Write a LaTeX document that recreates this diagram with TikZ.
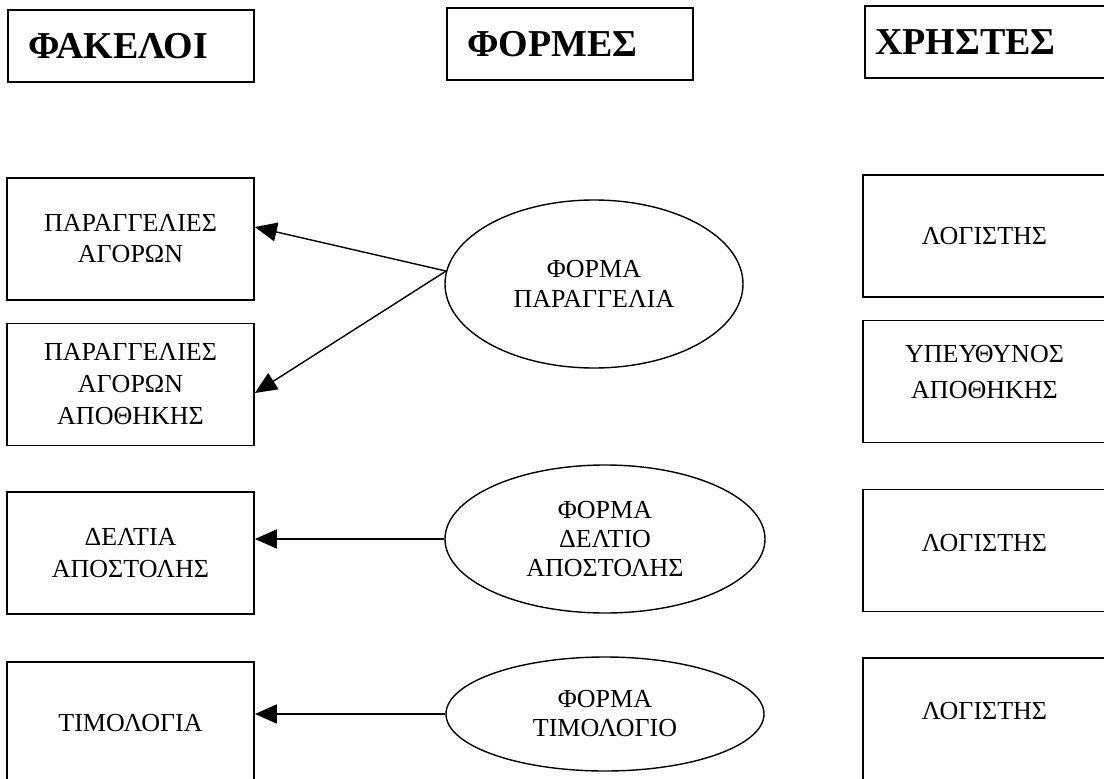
\documentclass[tikz,border=0pt]{standalone}
\usepackage{fontspec}
\setmainfont{Liberation Serif}
\usepackage{tikz}
\usetikzlibrary{shapes,arrows.meta}

\begin{document}
\begin{tikzpicture}[x=1pt, y=-1pt, >={Triangle[length=22pt,width=19pt]}, semithick,
  box/.style={draw, line width=1.7pt, rectangle, minimum height=122pt, inner sep=0pt, align=center, font=\fontsize{26}{31}\selectfont},
  head/.style={draw, line width=1.7pt, minimum height=72pt, text width=206pt, inner xsep=20pt, align=left, font=\fontsize{38}{44}\selectfont\bfseries},
  form/.style={draw, ellipse, line width=1.4pt, inner sep=0pt, align=center, font=\fontsize{26}{29}\selectfont}]
\useasboundingbox (0,0) rectangle (1104,779);
\clip (0,0) rectangle (1104,779);

% titles
\node[head] (hfak) at (131,46) {ΦΑΚΕΛΟΙ};
\node[head] (hform) at (570,44) {ΦΟΡΜΕΣ};
\node[head, text width=230pt, inner xsep=10pt] (hxr) at (990,42) {ΧΡΗΣΤΕΣ};

% folders
\node[box, minimum width=247pt] (parag) at (130.5,239) {ΠΑΡΑΓΓΕΛΙΕΣ\\ΑΓΟΡΩΝ};
\node[box, minimum width=247pt, font=\fontsize{26}{32}\selectfont] (parapoth) at (130.5,384.5) {ΠΑΡΑΓΓΕΛΙΕΣ\\ΑΓΟΡΩΝ\\ΑΠΟΘΗΚΗΣ};
\node[box, minimum width=247pt, font=\fontsize{26}{32}\selectfont] (deltia) at (130.5,553) {ΔΕΛΤΙΑ\\ΑΠΟΣΤΟΛΗΣ};
\node[box, minimum width=247pt] (timol) at (130.5,723) {ΤΙΜΟΛΟΓΙΑ};

% forms
\node[form, minimum width=298pt, minimum height=168pt, font=\fontsize{26}{30}\selectfont] (fpar) at (594,284) {ΦΟΡΜΑ\\ΠΑΡΑΓΓΕΛΙΑ};
\node[form, minimum width=320pt, minimum height=148pt] (fdel) at (605,539) {ΦΟΡΜΑ\\ΔΕΛΤΙΟ\\ΑΠΟΣΤΟΛΗΣ};
\node[form, minimum width=318pt, minimum height=114pt] (ftim) at (605,714) {ΦΟΡΜΑ\\ΤΙΜΟΛΟΓΙΟ};

% users
\node[box, minimum width=243pt] (log1) at (984.5,236) {ΛΟΓΙΣΤΗΣ};
\node[box, minimum width=243pt, font=\fontsize{26}{36}\selectfont, text depth=20pt] (ypeuth) at (984.5,381.5) {ΥΠΕΥΘΥΝΟΣ\\ΑΠΟΘΗΚΗΣ};
\node[box, minimum width=243pt, text depth=16pt] (log2) at (984.5,550.5) {ΛΟΓΙΣΤΗΣ};
\node[box, minimum width=243pt, text depth=16pt] (log3) at (984.5,719) {ΛΟΓΙΣΤΗΣ};

\path[->, line width=1.4pt]
(fpar.175) edge ([yshift=12pt]parag.east)
(fpar.175) edge ([yshift=-8.5pt]parapoth.east)

(fdel.west) edge (fdel.west -| deltia.east)
(ftim.west) edge (ftim.west -| timol.east);
\end{tikzpicture}
\end{document}
